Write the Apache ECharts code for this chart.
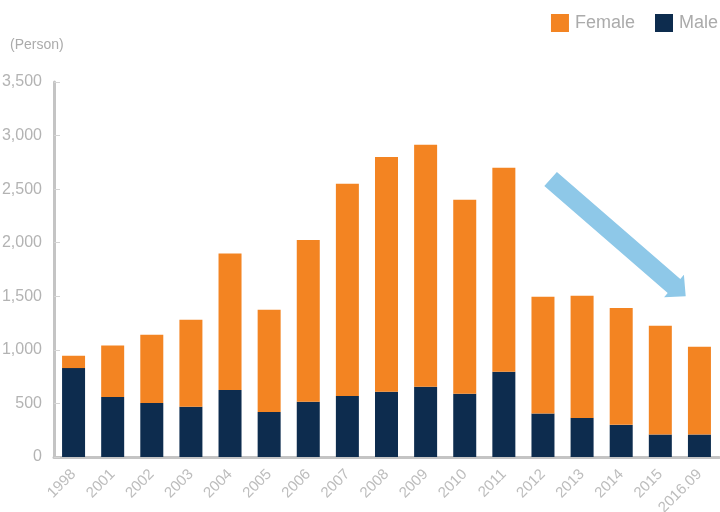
<!DOCTYPE html>
<html>
<head>
<meta charset="utf-8">
<script src="https://cdn.jsdelivr.net/npm/echarts@6/dist/echarts.min.js"></script>
<style>html,body{margin:0;padding:0;background:#fff}#c{width:720px;height:512px}</style>
</head>
<body>
<div id="c"></div>
<script>
const categories = ['1998','2001','2002','2003','2004','2005','2006','2007','2008','2009','2010','2011','2012','2013','2014','2015','2016.09'];
const maleValues = [830,560,505,470,625,420,515,570,610,655,590,795,405,365,300,210,210];
const femaleValues = [115,480,635,810,1275,955,1510,1980,2190,2260,1810,1905,1090,1140,1090,1015,820];
const yTicks = [0,500,1000,1500,2000,2500,3000,3500];

const FONT = '"Liberation Sans", Arial, sans-serif';
const chart = echarts.init(document.getElementById('c'));
chart.setOption({
  animation: false,
  textStyle: {fontFamily: FONT},
  title: {
    text: '(Person)', left: 5, top: 33,
    textStyle: {fontSize: 14, fontWeight: 'normal', color: '#ababab', fontFamily: FONT}
  },
  legend: {
    data: ['Female','Male'], right: 2, top: 14, padding: 0,
    itemWidth: 18, itemHeight: 18, itemGap: 20,
    icon: 'rect',
    textStyle: {fontSize: 18, color: '#ababab', fontFamily: FONT, padding: [0,0,0,1]}
  },
  grid: {left: 54, right: 1, top: 82, bottom: 55, containLabel: false, outerBoundsMode: 'none'},
  xAxis: {
    type: 'category', data: categories,
    axisLine: {lineStyle: {color: '#c4c4c4', width: 3}},
    axisTick: {inside: true, length: 5, lineStyle: {color: '#d4d4d4', width: 1}},
    axisLabel: {rotate: 45, fontSize: 15, color: '#bdbdbd', margin: 15, fontFamily: FONT}
  },
  yAxis: {
    type: 'value', min: yTicks[0], max: yTicks[yTicks.length-1], interval: 500,
    axisLine: {show: true, lineStyle: {color: '#c4c4c4', width: 3}},
    axisTick: {show: true, inside: true, length: 6, lineStyle: {color: '#d4d4d4', width: 1}},
    splitLine: {show: false},
    axisLabel: {fontSize: 16, color: '#b3b3b3', margin: 12, fontFamily: FONT,
      formatter: v => v.toLocaleString('en-US')}
  },
  series: [
    {name: 'Male', type: 'bar', stack: 'total', data: maleValues, barWidth: 23,
      itemStyle: {color: '#0d2c4e'}},
    {name: 'Female', type: 'bar', stack: 'total', data: femaleValues, barWidth: 23,
      itemStyle: {color: '#f38422'}}
  ],
  graphic: [{
    type: 'polygon',
    shape: {points: [[544.3,186.1],[556.9,171.9],[680.3,278.9],[683.9,274.7],[685.7,296.3],[664.1,297.3],[667.7,293.1]]},
    style: {fill: '#8ec8e8'}
  }]
});
</script>
</body>
</html>
